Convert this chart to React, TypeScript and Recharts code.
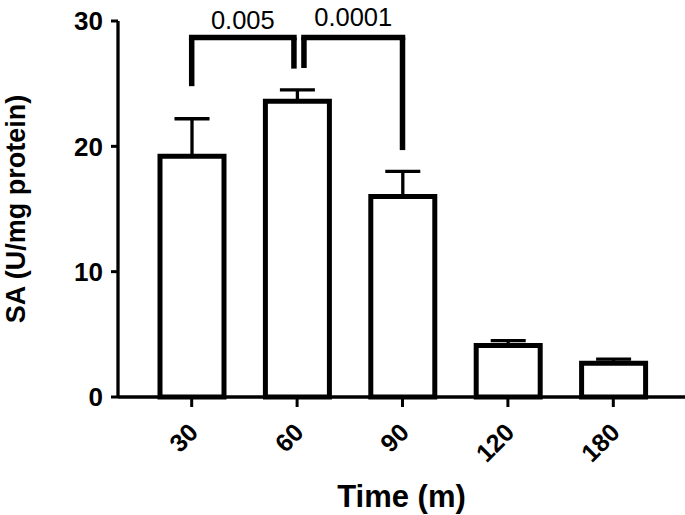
import React from 'react';
import { BarChart, Bar, XAxis, YAxis, ErrorBar, ReferenceLine } from 'recharts';

const FONT = '"Liberation Sans", Arial, Helvetica, sans-serif';

// Data
const times = ['30', '60', '90', '120', '180'];
const meanSA = [19.2, 23.6, 16.0, 4.1, 2.7];
const semSA = [3.0, 0.9, 2.0, 0.4, 0.32];
const yTicks = [0, 10, 20, 30];

// significance brackets: [leftX, rightX] (category index), leg ends and top in data units
const bracketP = ['0.005', '0.0001'];
const bracketX = [
  [0, 0.97],
  [1.065, 2.0],
];
const bracketLegEnds = [
  [24.8, 26.2],
  [26.25, 19.7],
];
const bracketTop = [28.68, 28.68];
const bracketLabelOffset = [9, 11.5];

const data = times.map((t, i) => ({ time: t, idx: i, mean: meanSA[i], err: [0, semSA[i]] }));

const XTick = (props: any) => {
  const { x, y, payload } = props;
  return (
    <g transform={`translate(${x + 8},${y + 25}) rotate(-45)`}>
      <text x={0} y={0} textAnchor="end" fill="#000" fontSize={25} fontWeight="bold" fontFamily={FONT}>
        {payload.value}
      </text>
    </g>
  );
};

const YLabel = (props: any) => {
  const vb = props.viewBox || { x: 0, y: 21, width: 118, height: 376 };
  const cx = vb.x + 25;
  const cy = vb.y + vb.height / 2;
  return (
    <text
      x={cx}
      y={cy}
      transform={`rotate(-90, ${cx}, ${cy})`}
      textAnchor="middle"
      fill="#000"
      fontSize={27}
      fontWeight="bold"
      fontFamily={FONT}
    >
      SA (U/mg protein)
    </text>
  );
};

const XLabel = (props: any) => {
  const vb = props.viewBox || { x: 118, y: 397, width: 567, height: 118 };
  return (
    <text
      x={vb.x + vb.width / 2}
      y={vb.y + 110}
      textAnchor="middle"
      fill="#000"
      fontSize={31}
      fontWeight="bold"
      fontFamily={FONT}
    >
      Time (m)
    </text>
  );
};

export default function App() {
  const bw = 5.5;
  const pad = { left: 21, right: 19 };
  // band half-width added so that index i sits on band centre i
  const half = (685 - 118 - pad.left - pad.right) / times.length / 2;
  return (
    <div style={{ position: 'absolute', left: 0, top: 0 }}>
      <BarChart width={685} height={515} data={data} margin={{ top: 21, right: 0, left: 0, bottom: 0 }}>
        <XAxis
          dataKey="time"
          height={118}
          padding={pad}
          tickSize={10}
          tickMargin={2}
          tick={<XTick />}
          axisLine={{ stroke: '#000', strokeWidth: 3.3 }}
          tickLine={{ stroke: '#000', strokeWidth: 3 }}
          interval={0}
          label={<XLabel />}
        />
        <XAxis
          xAxisId="num"
          dataKey="idx"
          type="number"
          domain={[0, times.length - 1]}
          allowDataOverflow
          padding={{ left: pad.left + half, right: pad.right + half }}
          hide
        />
        <YAxis
          width={118}
          domain={[0, 30]}
          ticks={yTicks}
          tickSize={7}
          tickMargin={8}
          axisLine={{ stroke: '#000', strokeWidth: 3.3 }}
          tickLine={{ stroke: '#000', strokeWidth: 3 }}
          tick={{ fill: '#000', fontSize: 26, fontWeight: 'bold', fontFamily: FONT }}
          label={<YLabel />}
        />
        <Bar dataKey="mean" fill="#fff" stroke="#000" strokeWidth={5} barSize={64} isAnimationActive={false}>
          <ErrorBar dataKey="err" width={17.5} strokeWidth={3.3} stroke="#000" direction="y" isAnimationActive={false} />
        </Bar>
        {bracketP.map((p, i) => (
          <ReferenceLine
            key={`h${i}`}
            xAxisId="num"
            segment={[
              { x: bracketX[i][0], y: bracketTop[i] },
              { x: bracketX[i][1], y: bracketTop[i] },
            ]}
            stroke="#000"
            strokeWidth={bw}
            strokeLinecap="square"
            ifOverflow="visible"
            label={{
              value: p,
              position: 'top',
              offset: bracketLabelOffset[i],
              fill: '#000',
              fontSize: 25.5,
              fontFamily: FONT,
            }}
          />
        ))}
        {bracketP.map((p, i) => (
          <ReferenceLine
            key={`l${i}`}
            xAxisId="num"
            segment={[
              { x: bracketX[i][0], y: bracketTop[i] },
              { x: bracketX[i][0], y: bracketLegEnds[i][0] },
            ]}
            stroke="#000"
            strokeWidth={bw}
            ifOverflow="visible"
          />
        ))}
        {bracketP.map((p, i) => (
          <ReferenceLine
            key={`r${i}`}
            xAxisId="num"
            segment={[
              { x: bracketX[i][1], y: bracketTop[i] },
              { x: bracketX[i][1], y: bracketLegEnds[i][1] },
            ]}
            stroke="#000"
            strokeWidth={bw}
            ifOverflow="visible"
          />
        ))}
      </BarChart>
    </div>
  );
}
